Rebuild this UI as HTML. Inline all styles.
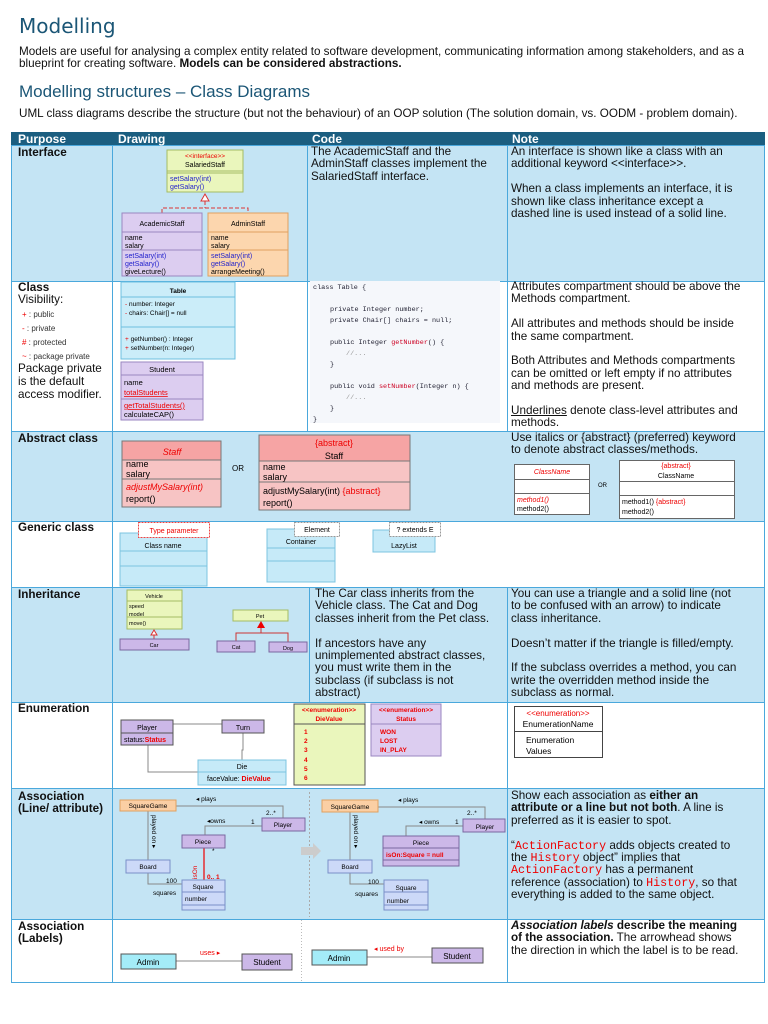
<!DOCTYPE html>
<html><head><meta charset="utf-8"><style>
*{margin:0;padding:0;box-sizing:border-box}
body{width:768px;height:1024px;background:#fff;position:relative;font-family:"Liberation Sans",Arial,sans-serif;color:#111;overflow:hidden}
.a{position:absolute;white-space:nowrap}
.t{font-size:11.7px;line-height:12.4px}
.r{color:#e00}
.m{font-family:"Liberation Mono",monospace;color:#e00}
</style></head><body>
<div class="a" style="left:19px;top:14px;font-family:'DejaVu Sans',sans-serif;font-size:20px;color:#1b5676">Modelling</div>
<div class="a t" style="left:19px;top:46px">Models are useful for analysing a complex entity related to software development, communicating information among stakeholders, and as a<br>blueprint for creating software. <b>Models can be considered abstractions.</b></div>
<div class="a" style="left:19px;top:82px;font-size:17px;color:#1b5676">Modelling structures – Class Diagrams</div>
<div class="a t" style="left:19px;top:108px">UML class diagrams describe the structure (but not the behaviour) of an OOP solution (The solution domain, vs. OODM - problem domain).</div>

<svg class="a" style="left:0;top:0" width="768" height="1024" font-family="Liberation Sans,Arial,sans-serif">
<rect x="11" y="132" width="754" height="13" fill="#1b5e80"/>
<g fill="#c4e4f4">
<rect x="11" y="145" width="754" height="136"/>
<rect x="11" y="431" width="754" height="90"/>
<rect x="11" y="587" width="754" height="115"/>
<rect x="11" y="788" width="754" height="131"/>
</g>
<g stroke="#4aa8dc" stroke-width="1" fill="none">
<rect x="11.5" y="145.5" width="753" height="837"/>
<line x1="11" y1="281.5" x2="765" y2="281.5"/><line x1="11" y1="431.5" x2="765" y2="431.5"/>
<line x1="11" y1="521.5" x2="765" y2="521.5"/><line x1="11" y1="587.5" x2="765" y2="587.5"/>
<line x1="11" y1="702.5" x2="765" y2="702.5"/><line x1="11" y1="788.5" x2="765" y2="788.5"/>
<line x1="11" y1="919.5" x2="765" y2="919.5"/>
<line x1="112.5" y1="145" x2="112.5" y2="983"/>
<line x1="307.5" y1="145" x2="307.5" y2="431"/>
<line x1="309.5" y1="587" x2="309.5" y2="702"/>
<line x1="507.5" y1="145" x2="507.5" y2="431"/>
<line x1="507.5" y1="587" x2="507.5" y2="983"/>
</g>
<g fill="#fff" font-weight="bold" font-size="12"><text x="18" y="143">Purpose</text><text x="118" y="143">Drawing</text><text x="312" y="143">Code</text><text x="512" y="143">Note</text></g>

<g font-size="7">
<rect x="167" y="150" width="76" height="42" fill="#eaf6bc" stroke="#a4bc64"/>
<line x1="167" y1="171" x2="243" y2="171" stroke="#a4bc64"/><line x1="167" y1="173" x2="243" y2="173" stroke="#a4bc64"/>
<text x="205" y="158" text-anchor="middle" fill="#e00" font-size="6.5">&lt;&lt;interface&gt;&gt;</text>
<text x="205" y="167" text-anchor="middle">SalariedStaff</text>
<text x="170" y="181" fill="#22c">setSalary(int)</text><text x="170" y="189" fill="#22c">getSalary()</text>
<polygon points="205,194 201,201 209,201" fill="#fff" stroke="#d33"/>
<path d="M205 201V208M162 213V208H248V213" stroke="#d33" stroke-dasharray="4,2" fill="none"/>
<rect x="122" y="213" width="80" height="63" fill="#dccdf0" stroke="#9a86c0"/>
<line x1="122" y1="232" x2="202" y2="232" stroke="#9a86c0"/><line x1="122" y1="250" x2="202" y2="250" stroke="#9a86c0"/>
<text x="162" y="226" text-anchor="middle">AcademicStaff</text>
<text x="125" y="240">name</text><text x="125" y="248">salary</text>
<text x="125" y="258" fill="#22c">setSalary(int)</text><text x="125" y="266" fill="#22c">getSalary()</text><text x="125" y="274">giveLecture()</text>
<rect x="208" y="213" width="80" height="63" fill="#fcd6ae" stroke="#e0a060"/>
<line x1="208" y1="232" x2="288" y2="232" stroke="#e0a060"/><line x1="208" y1="250" x2="288" y2="250" stroke="#e0a060"/>
<text x="248" y="226" text-anchor="middle">AdminStaff</text>
<text x="211" y="240">name</text><text x="211" y="248">salary</text>
<text x="211" y="258" fill="#22c">setSalary(int)</text><text x="211" y="266" fill="#22c">getSalary()</text><text x="211" y="274">arrangeMeeting()</text>
</g>

<g font-size="6.5">
<rect x="121" y="282" width="114" height="77" fill="#cbedf9" stroke="#6cc0e0"/>
<line x1="121" y1="297" x2="235" y2="297" stroke="#6cc0e0"/><line x1="121" y1="327" x2="235" y2="327" stroke="#6cc0e0"/>
<text x="178" y="293" text-anchor="middle" font-weight="bold">Table</text>
<text x="125" y="306"><tspan fill="#e00">-</tspan> number: Integer</text><text x="125" y="315"><tspan fill="#e00">-</tspan> chairs: Chair[] = null</text>
<text x="125" y="341"><tspan fill="#e00">+</tspan> getNumber() : Integer</text><text x="125" y="350"><tspan fill="#e00">+</tspan> setNumber(n: Integer)</text>
<rect x="121" y="362" width="82" height="58" fill="#dccdf0" stroke="#9a86c0"/>
<line x1="121" y1="375" x2="203" y2="375" stroke="#9a86c0"/><line x1="121" y1="399" x2="203" y2="399" stroke="#9a86c0"/>
<text x="162" y="372" text-anchor="middle" font-size="7.5">Student</text>
<text x="124" y="385" font-size="7.5">name</text><text x="124" y="395" font-size="7.5" fill="#e00" text-decoration="underline">totalStudents</text>
<text x="124" y="408" font-size="7.5" fill="#e00" text-decoration="underline">getTotalStudents()</text><text x="124" y="417" font-size="7.5">calculateCAP()</text>
</g>
<rect x="310" y="281" width="190" height="142" fill="#f5f7fb"/>
<g font-family="Liberation Mono,monospace" font-size="6.8" fill="#223">
<text x="313" y="289">class Table {</text>
<text x="330" y="311">private Integer number;</text>
<text x="330" y="322">private Chair[] chairs = null;</text>
<text x="330" y="344">public Integer <tspan fill="#c02">getNumber</tspan>() {</text>
<text x="346" y="355" fill="#999">//...</text><text x="330" y="366">}</text>
<text x="330" y="388">public void <tspan fill="#c02">setNumber</tspan>(Integer n) {</text>
<text x="346" y="399" fill="#999">//...</text><text x="330" y="410">}</text><text x="313" y="421">}</text>
</g>

<g font-size="9">
<rect x="122" y="441" width="99" height="66" fill="#f7c4c4" stroke="#777"/>
<rect x="122" y="441" width="99" height="19" fill="#f6a4a4" stroke="#777"/>
<line x1="122" y1="479" x2="221" y2="479" stroke="#777"/>
<text x="172" y="455" text-anchor="middle" fill="#e00" font-style="italic">Staff</text>
<text x="126" y="467">name</text><text x="126" y="477">salary</text>
<text x="126" y="490" fill="#e00" font-style="italic">adjustMySalary(int)</text><text x="126" y="502">report()</text>
<text x="232" y="471" font-size="8">OR</text>
<rect x="259" y="435" width="151" height="75" fill="#f7c4c4" stroke="#777"/>
<rect x="259" y="435" width="151" height="26" fill="#f6a4a4" stroke="#777"/>
<line x1="259" y1="482" x2="410" y2="482" stroke="#777"/>
<text x="334" y="446" text-anchor="middle" fill="#e00">{abstract}</text><text x="334" y="459" text-anchor="middle">Staff</text>
<text x="263" y="470">name</text><text x="263" y="480">salary</text>
<text x="263" y="494">adjustMySalary(int) <tspan fill="#e00">{abstract}</tspan></text><text x="263" y="506">report()</text>
</g>
<g font-size="7" stroke-width="1">
<rect x="514.5" y="464.5" width="75" height="50" fill="#fff" stroke="#666"/>
<line x1="514" y1="479.5" x2="589" y2="479.5" stroke="#666"/><line x1="514" y1="493.5" x2="589" y2="493.5" stroke="#666"/>
<text x="552" y="474" text-anchor="middle" fill="#e00" font-style="italic">ClassName</text>
<text x="517" y="502" fill="#e00" font-style="italic">method1()</text><text x="517" y="511">method2()</text>
<text x="598" y="487" font-size="6">OR</text>
<rect x="619.5" y="460.5" width="115" height="58" fill="#fff" stroke="#666"/>
<line x1="619" y1="481.5" x2="734" y2="481.5" stroke="#666"/><line x1="619" y1="495.5" x2="734" y2="495.5" stroke="#666"/>
<text x="676" y="468" text-anchor="middle" fill="#e00">{abstract}</text><text x="676" y="478" text-anchor="middle">ClassName</text>
<text x="622" y="504">method1() <tspan fill="#e00">{abstract}</tspan></text><text x="622" y="514">method2()</text>
</g>

<g font-size="7">
<rect x="120" y="533" width="87" height="53" fill="#c6eaf8" stroke="#7cc4e0"/>
<line x1="120" y1="551" x2="207" y2="551" stroke="#7cc4e0"/><line x1="120" y1="566" x2="207" y2="566" stroke="#7cc4e0"/>
<text x="163" y="548" text-anchor="middle">Class name</text>
<rect x="138.5" y="522.5" width="71" height="15" fill="#fff" stroke="#e44" stroke-dasharray="2,1"/>
<text x="174" y="533" text-anchor="middle" fill="#e00">Type parameter</text>
<rect x="267" y="529" width="68" height="53" fill="#c6eaf8" stroke="#7cc4e0"/>
<line x1="267" y1="548" x2="335" y2="548" stroke="#7cc4e0"/><line x1="267" y1="561" x2="335" y2="561" stroke="#7cc4e0"/>
<text x="301" y="544" text-anchor="middle">Container</text>
<rect x="294.5" y="522.5" width="45" height="14" fill="#fff" stroke="#999" stroke-dasharray="2,1"/>
<text x="317" y="532" text-anchor="middle">Element</text>
<rect x="373" y="530" width="62" height="22" fill="#c6eaf8" stroke="#7cc4e0"/>
<text x="404" y="548" text-anchor="middle">LazyList</text>
<rect x="389.5" y="522.5" width="51" height="14" fill="#fff" stroke="#999" stroke-dasharray="2,1"/>
<text x="415" y="532" text-anchor="middle">? extends E</text>
</g>

<g font-size="5.5">
<rect x="127" y="590" width="55" height="39" fill="#eaf6bc" stroke="#a4bc64"/>
<line x1="127" y1="601" x2="182" y2="601" stroke="#a4bc64"/><line x1="127" y1="617" x2="182" y2="617" stroke="#a4bc64"/>
<text x="154" y="598" text-anchor="middle">Vehicle</text><text x="129" y="608">speed</text><text x="129" y="616">model</text><text x="129" y="625">move()</text>
<polygon points="154,630 151,635 157,635" fill="#fff" stroke="#d33"/><line x1="154" y1="635" x2="154" y2="639" stroke="#d33"/>
<rect x="120" y="639" width="69" height="11" fill="#ccb8e8" stroke="#7a68a0"/><text x="154" y="647" text-anchor="middle">Car</text>
<rect x="233" y="610" width="55" height="11" fill="#eaf6bc" stroke="#a4bc64"/><text x="260" y="618" text-anchor="middle">Pet</text>
<polygon points="261,621 257,628 265,628" fill="#e00"/>
<path d="M261 628V633M236 641V633H288V642" stroke="#c33" fill="none"/>
<rect x="217" y="641" width="38" height="11" fill="#ccb8e8" stroke="#7a68a0"/><text x="236" y="649" text-anchor="middle">Cat</text>
<rect x="269" y="642" width="38" height="10" fill="#ccb8e8" stroke="#7a68a0"/><text x="288" y="650" text-anchor="middle">Dog</text>
</g>

<g font-size="7">
<path d="M173 724H222M243 733V750H242V760M148 745V772H198" stroke="#888" fill="none"/>
<rect x="121" y="720" width="52" height="25" fill="#ccb8e8" stroke="#555"/><line x1="121" y1="733" x2="173" y2="733" stroke="#555"/>
<text x="147" y="730" text-anchor="middle">Player</text><text x="124" y="742">status:<tspan fill="#e00" font-weight="bold">Status</tspan></text>
<rect x="222" y="720" width="42" height="13" fill="#ccb8e8" stroke="#555"/><text x="243" y="730" text-anchor="middle">Turn</text>
<rect x="198" y="760" width="88" height="25" fill="#c6eaf8" stroke="#7cc4e0"/><line x1="198" y1="772" x2="286" y2="772" stroke="#7cc4e0"/>
<text x="242" y="769" text-anchor="middle">Die</text><text x="207" y="781">faceValue: <tspan fill="#e00" font-weight="bold">DieValue</tspan></text>
<rect x="294" y="704" width="71" height="81" fill="#eaf6bc" stroke="#555"/><line x1="294" y1="724" x2="365" y2="724" stroke="#555"/>
<g fill="#e00" font-weight="bold" font-size="6.5"><text x="329" y="712" text-anchor="middle">&lt;&lt;enumeration&gt;&gt;</text><text x="329" y="721" text-anchor="middle">DieValue</text>
<text x="304" y="734">1</text><text x="304" y="743">2</text><text x="304" y="752">3</text><text x="304" y="762">4</text><text x="304" y="771">5</text><text x="304" y="780">6</text></g>
<rect x="371" y="704" width="70" height="52" fill="#dccdf0" stroke="#9a86c0"/><line x1="371" y1="724" x2="441" y2="724" stroke="#9a86c0"/>
<g fill="#e00" font-weight="bold" font-size="6.5"><text x="406" y="712" text-anchor="middle">&lt;&lt;enumeration&gt;&gt;</text><text x="406" y="721" text-anchor="middle">Status</text>
<text x="380" y="734">WON</text><text x="380" y="743">LOST</text><text x="380" y="752">IN_PLAY</text></g>
<rect x="514.5" y="706.5" width="88" height="51" fill="#fff" stroke="#444"/><line x1="514" y1="731.5" x2="602" y2="731.5" stroke="#444"/>
<text x="558" y="716" text-anchor="middle" fill="#e00" font-size="8">&lt;&lt;enumeration&gt;&gt;</text><text x="558" y="727" text-anchor="middle" font-size="8.5">EnumerationName</text>
<text x="526" y="743" font-size="8.5">Enumeration</text><text x="526" y="754" font-size="8.5">Values</text>
</g>

<g font-size="6.5">
<path d="M176 806H283V818M205 835V826H262M148 811V860M148 873V884H182" stroke="#888" fill="none"/>
<line x1="204" y1="848" x2="204" y2="880" stroke="#e00" stroke-width="1.2"/>
<rect x="120" y="800" width="56" height="11" fill="#fbcfa4" stroke="#e0a060"/><text x="148" y="808" text-anchor="middle">SquareGame</text>
<rect x="262" y="818" width="43" height="13" fill="#ccb8e8" stroke="#7a68a0"/><text x="283" y="827" text-anchor="middle">Player</text>
<rect x="182" y="835" width="43" height="13" fill="#ccb8e8" stroke="#7a68a0"/><text x="203" y="844" text-anchor="middle">Piece</text>
<rect x="126" y="860" width="44" height="13" fill="#ccd9f8" stroke="#7a90c8"/><text x="148" y="869" text-anchor="middle">Board</text>
<rect x="182" y="880" width="43" height="30" fill="#ccd9f8" stroke="#7a90c8"/><line x1="182" y1="892" x2="225" y2="892" stroke="#7a90c8"/><line x1="182" y1="905" x2="225" y2="905" stroke="#7a90c8"/>
<text x="203" y="889" text-anchor="middle">Square</text><text x="185" y="901">number</text>
<text x="196" y="801">◂ plays</text><text x="266" y="815">2..*</text><text x="207" y="823">◂owns</text><text x="251" y="824">1</text>
<text x="212" y="853">*</text><text x="207" y="879" fill="#e00" font-weight="bold">0.. 1</text>
<text x="197" y="879" fill="#e00" transform="rotate(-90 197 879)">isOn</text>
<text x="152" y="815" transform="rotate(90 152 815)">played on ▸</text>
<text x="166" y="883">100</text><text x="153" y="895">squares</text>
<line x1="309.5" y1="792" x2="309.5" y2="917" stroke="#aaa" stroke-dasharray="2,2"/>
<polygon points="301,847 313,847 313,843 321,851 313,859 313,855 301,855" fill="#ccc"/>
<path d="M378 807H485V819M406 836V826H463M350 812V860M350 873V884H384" stroke="#888" fill="none"/>
<rect x="322" y="800" width="56" height="12" fill="#fbcfa4" stroke="#e0a060"/><text x="350" y="809" text-anchor="middle">SquareGame</text>
<rect x="463" y="819" width="42" height="13" fill="#ccb8e8" stroke="#7a68a0"/><text x="485" y="829" text-anchor="middle">Player</text>
<rect x="383" y="836" width="76" height="30" fill="#ccb8e8" stroke="#7a68a0"/><line x1="383" y1="848" x2="459" y2="848" stroke="#7a68a0"/><line x1="383" y1="860" x2="459" y2="860" stroke="#7a68a0"/>
<text x="421" y="845" text-anchor="middle">Piece</text><text x="386" y="857" fill="#e00" font-weight="bold">isOn:Square = null</text>
<rect x="328" y="860" width="44" height="13" fill="#ccd9f8" stroke="#7a90c8"/><text x="350" y="869" text-anchor="middle">Board</text>
<rect x="384" y="880" width="44" height="30" fill="#ccd9f8" stroke="#7a90c8"/><line x1="384" y1="892" x2="428" y2="892" stroke="#7a90c8"/><line x1="384" y1="905" x2="428" y2="905" stroke="#7a90c8"/>
<text x="406" y="890" text-anchor="middle">Square</text><text x="387" y="903">number</text>
<text x="398" y="802">◂ plays</text><text x="467" y="815">2..*</text><text x="419" y="824">◂ owns</text><text x="455" y="824">1</text>
<text x="354" y="815" transform="rotate(90 354 815)">played on ▸</text>
<text x="368" y="884">100</text><text x="355" y="896">squares</text>
</g>

<g font-size="8">
<line x1="176" y1="961" x2="242" y2="961" stroke="#888"/>
<rect x="121" y="954" width="55" height="15" fill="#a4ecf8" stroke="#555"/><text x="148" y="965" text-anchor="middle">Admin</text>
<rect x="242" y="954" width="50" height="16" fill="#ccb8e8" stroke="#555"/><text x="267" y="965" text-anchor="middle">Student</text>
<text x="200" y="955" fill="#e00" font-size="7">uses ▸</text>
<line x1="301.5" y1="920" x2="301.5" y2="983" stroke="#bbb" stroke-dasharray="1,2"/>
<line x1="367" y1="957" x2="432" y2="957" stroke="#888"/>
<rect x="312" y="950" width="55" height="15" fill="#a4ecf8" stroke="#555"/><text x="339" y="961" text-anchor="middle">Admin</text>
<rect x="432" y="948" width="51" height="15" fill="#ccb8e8" stroke="#555"/><text x="457" y="959" text-anchor="middle">Student</text>
<text x="374" y="951" fill="#e00" font-size="7">◂ used by</text>
</g>
</svg>

<div class="a t" style="left:18px;top:147px;font-weight:bold">Interface</div>
<div class="a t" style="left:18px;top:282px"><b>Class</b><br>Visibility:</div>
<div class="a" style="left:22px;top:308px;font-size:8px;line-height:14px;color:#333"><span class="r">+</span> : public<br><span class="r">-</span> : private<br><span class="r">#</span> : protected<br><span class="r">~</span> : package private</div>
<div class="a t" style="left:18px;top:362px;line-height:13px">Package private<br>is the default<br>access modifier.</div>
<div class="a t" style="left:18px;top:433px;font-weight:bold">Abstract class</div>
<div class="a t" style="left:18px;top:522px;font-weight:bold">Generic class</div>
<div class="a t" style="left:18px;top:589px;font-weight:bold">Inheritance</div>
<div class="a t" style="left:18px;top:703px;font-weight:bold">Enumeration</div>
<div class="a t" style="left:18px;top:791px;font-weight:bold">Association<br>(Line/ attribute)</div>
<div class="a t" style="left:18px;top:921px;font-weight:bold">Association<br>(Labels)</div>

<div class="a t" style="left:311px;top:146px">The AcademicStaff and the<br>AdminStaff classes implement the<br>SalariedStaff interface.</div>
<div class="a t" style="left:315px;top:588px">The Car class inherits from the<br>Vehicle class. The Cat and Dog<br>classes inherit from the Pet class.<br><br>If ancestors have any<br>unimplemented abstract classes,<br>you must write them in the<br>subclass (if subclass is not<br>abstract)</div>

<div class="a t" style="left:511px;top:146px">An interface is shown like a class with an<br>additional keyword &lt;&lt;interface&gt;&gt;.<br><br>When a class implements an interface, it is<br>shown like class inheritance except a<br>dashed line is used instead of a solid line.</div>
<div class="a t" style="left:511px;top:281px">Attributes compartment should be above the<br>Methods compartment.<br><br>All attributes and methods should be inside<br>the same compartment.<br><br>Both Attributes and Methods compartments<br>can be omitted or left empty if no attributes<br>and methods are present.<br><br><u>Underlines</u> denote class-level attributes and<br>methods.</div>
<div class="a t" style="left:511px;top:432px">Use italics or {abstract} (preferred) keyword<br>to denote abstract classes/methods.</div>
<div class="a t" style="left:511px;top:588px">You can use a triangle and a solid line (not<br>to be confused with an arrow) to indicate<br>class inheritance.<br><br>Doesn’t matter if the triangle is filled/empty.<br><br>If the subclass overrides a method, you can<br>write the overridden method inside the<br>subclass as normal.</div>
<div class="a t" style="left:511px;top:790px">Show each association as <b>either an<br>attribute or a line but not both</b>. A line is<br>preferred as it is easier to spot.<br><br>“<span class="m">ActionFactory</span> adds objects created to<br>the <span class="m">History</span> object” implies that<br><span class="m">ActionFactory</span> has a permanent<br>reference (association) to <span class="m">History</span>, so that<br>everything is added to the same object.</div>
<div class="a t" style="left:511px;top:920px"><b><i>Association labels</i> describe the meaning<br>of the association.</b> The arrowhead shows<br>the direction in which the label is to be read.</div>
</body></html>
